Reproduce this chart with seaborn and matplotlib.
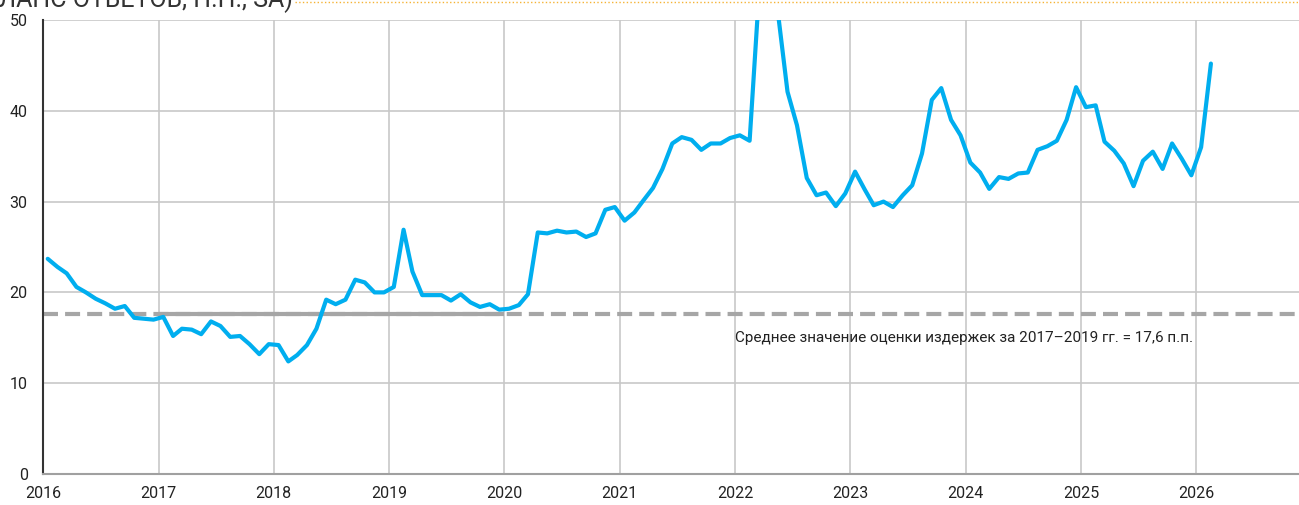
import matplotlib
matplotlib.use("Agg")
import matplotlib.pyplot as plt
from matplotlib.lines import Line2D
import seaborn as sns
import pandas as pd
import numpy as np

# monthly cost estimate, Jan 2016 .. Feb 2026 (p.p., SA)
v2016 = [23.7, 22.8, 22.1, 20.6, 20.0, 19.3, 18.8, 18.2, 18.5, 17.2, 17.1, 17.0]
v2017 = [17.3, 15.2, 16.0, 15.9, 15.4, 16.8, 16.3, 15.1, 15.2, 14.3, 13.2, 14.3]
v2018 = [14.2, 12.4, 13.1, 14.2, 16.0, 19.2, 18.7, 19.2, 21.4, 21.1, 20.0, 20.0]
v2019 = [20.6, 26.9, 22.3, 19.7, 19.7, 19.7, 19.1, 19.8, 18.9, 18.4, 18.7, 18.1]
v2020 = [18.2, 18.6, 19.8, 26.6, 26.5, 26.8, 26.6, 26.7, 26.1, 26.5, 29.1, 29.4]
v2021 = [27.9, 28.8, 30.1, 31.5, 33.6, 36.4, 37.1, 36.8, 35.7, 36.4, 36.4, 37.0]
v2022 = [37.3, 36.7, 52.0, 62.0, 51.0, 42.1, 38.4, 32.6, 30.7, 31.0, 29.5, 30.9]
v2023 = [33.3, 31.3, 29.6, 30.0, 29.4, 30.7, 31.8, 35.3, 41.2, 42.5, 39.0, 37.3]
v2024 = [34.3, 33.2, 31.4, 32.7, 32.5, 33.1, 33.2, 35.7, 36.1, 36.7, 39.0, 42.6]
v2025 = [40.4, 40.6, 36.6, 35.6, 34.2, 31.7, 34.5, 35.5, 33.6, 36.4, 34.7, 32.9]
v2026 = [36.0, 45.2]

avg_level = 17.6
avg_label = "Среднее значение оценки издержек за 2017–2019 гг. = 17,6 п.п."
title_tail = "(БАЛАНС ОТВЕТОВ, П.П., SA)"
year_ticks = list(range(2016, 2027))

values = v2016 + v2017 + v2018 + v2019 + v2020 + v2021 + v2022 + v2023 + v2024 + v2025 + v2026
dates = pd.date_range("2016-01-01", periods=len(values), freq="MS") + pd.Timedelta(days=15)
df = pd.DataFrame({"date": dates, "value": values})

sns.set_style("white")
plt.rcParams["font.family"] = ["Roboto", "DejaVu Sans"]

fig = plt.figure(figsize=(12.99, 5.05), dpi=100)
ax = fig.add_axes([43 / 1299, 31 / 505, 1256 / 1299, 454 / 505])

# reference line: dashed across, solid over 2017-2019
ax.axhline(avg_level, color="#A6A6A6", lw=3, dashes=(3.6, 1.7), zorder=2)
ax.plot([pd.Timestamp("2017-01-01"), pd.Timestamp("2020-01-01")], [avg_level, avg_level],
        color="#A6A6A6", lw=3, solid_capstyle="butt", zorder=2)

sns.lineplot(data=df, x="date", y="value", color="#00AEEF", lw=3, ax=ax, zorder=3)

ax.set_ylim(0, 50)
ax.set_xlim(pd.Timestamp("2016-01-01"), pd.Timestamp("2026-11-22"))
ax.set_yticks(range(0, 51, 10))
ax.set_xticks([pd.Timestamp(f"{y}-01-01") for y in year_ticks])
ax.set_xticklabels([str(y) for y in year_ticks])
ax.set_xlabel("")
ax.set_ylabel("")

ax.grid(True, color="#C8C8C8", lw=1.2)
ax.set_axisbelow(True)
for s in ["top", "right"]:
    ax.spines[s].set_visible(False)
ax.spines["left"].set_color("#333333")
ax.spines["left"].set_linewidth(1.5)
ax.spines["bottom"].set_color("#A0A0A0")
ax.spines["bottom"].set_linewidth(1.5)
ax.tick_params(axis="y", direction="out", length=5, width=1.5, color="#333333",
               labelsize=11.5, labelcolor="#222222", pad=6)
ax.tick_params(axis="x", direction="out", length=6, width=1.2, color="#A0A0A0",
               labelsize=11.5, labelcolor="#222222", pad=3)

ax.text(pd.Timestamp("2022-01-01"), 15.0, avg_label, fontsize=11, color="#222222",
        va="center", ha="left")

# cut-off heading (only its lower part shows in the reference) and its dotted rule
fig.text(293 / 1299, 1 - 7 / 505, title_tail, fontsize=18, color="#333333",
         ha="right", va="baseline")
fig.add_artist(Line2D([295 / 1299, 1.0], [1 - 1.5 / 505, 1 - 1.5 / 505],
                      transform=fig.transFigure, color="#F5B335", lw=1, ls=":"))

fig.savefig("out.png", dpi=100)
